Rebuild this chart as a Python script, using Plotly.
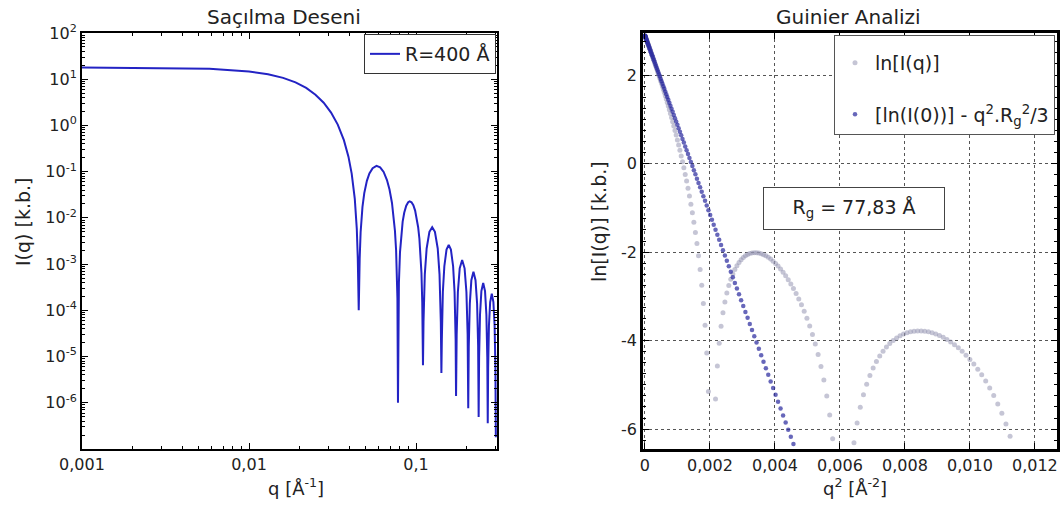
import plotly.graph_objects as go

# ---------------- Left panel: scattering pattern I(q) ----------------
q_left = [
    0.001, 0.0034, 0.0058, 0.01, 0.013, 0.016, 0.019, 0.022, 0.025, 0.028,
    0.031, 0.034, 0.037, 0.0394, 0.0412, 0.043, 0.0442, 0.0448, 0.0451, 0.0454,
    0.046, 0.0466, 0.0478, 0.049, 0.0508, 0.0526, 0.055, 0.058, 0.061, 0.064,
    0.067, 0.0694, 0.0718, 0.0736, 0.0748, 0.076, 0.0766, 0.0774, 0.078, 0.079,
    0.0802, 0.0814, 0.0832, 0.085, 0.0874, 0.0898, 0.0916, 0.094, 0.0964, 0.0988,
    0.1012, 0.103, 0.1048, 0.106, 0.1066, 0.1078, 0.109, 0.1101,
    0.1109, 0.1129, 0.1158, 0.1203, 0.125, 0.1298, 0.1349, 0.1383, 0.1408, 0.1419,
    0.1428, 0.1448, 0.1478, 0.1523, 0.157, 0.1618, 0.1668, 0.1702, 0.1727, 0.1737,
    0.1752, 0.1781, 0.1827, 0.1889, 0.1954, 0.2004, 0.2038, 0.2055,
    0.207, 0.21, 0.2145, 0.2208, 0.2272, 0.2322, 0.2355, 0.2372,
    0.2387, 0.2417, 0.2463, 0.2526, 0.259, 0.2639, 0.2672, 0.2689,
    0.2704, 0.2734, 0.278, 0.2843, 0.2907, 0.2956, 0.2989, 0.3006,
]
I_left = [
    17.96, 17.58, 16.84, 14.75, 12.82, 10.69, 8.525, 6.475, 4.627, 3.099,
    1.902, 1.042, 0.481, 0.211, 0.0911, 0.0258, 0.0058, 0.00135, 3.1e-4, 1.0e-4,
    0.00132, 0.00488, 0.01725, 0.0343, 0.0634, 0.0914, 0.1194, 0.1336, 0.1243, 0.0986,
    0.0659, 0.041, 0.021, 0.0102, 0.00525, 0.00199, 9.6e-4, 1.8e-4, 1.0e-6, 3.9e-4,
    0.00182, 0.00405, 0.00831, 0.01292, 0.01835, 0.02183, 0.02279, 0.02183, 0.01876, 0.01438,
    0.0096, 0.00629, 0.00354, 0.00211, 0.00153, 6.5e-4, 1.5e-4, 6.5e-6,
    5.6e-5, 6.0e-4, 0.00218, 0.005, 0.0063, 0.005, 0.00218, 6.0e-4, 5.6e-5, 4.4e-6,
    2.3e-5, 2.5e-4, 9.0e-4, 0.00206, 0.0026, 0.00206, 9.0e-4, 2.5e-4, 2.3e-5, 1.4e-6,
    3.0e-5, 2.5e-4, 8.1e-4, 0.00123, 8.1e-4, 2.5e-4, 3.0e-5, 7.6e-7,
    1.7e-5, 1.4e-4, 4.5e-4, 6.8e-4, 4.5e-4, 1.4e-4, 1.7e-5, 4.9e-7,
    9.6e-6, 8.0e-5, 2.6e-4, 3.9e-4, 2.6e-4, 8.0e-5, 9.6e-6, 3.6e-7,
    5.6e-6, 4.7e-5, 1.5e-4, 2.3e-4, 1.5e-4, 4.7e-5, 5.6e-6, 1.8e-7,
]

# ---------------- Right panel: Guinier analysis ----------------
q_grid = [
    0.001, 0.0016, 0.0022, 0.0028, 0.0034, 0.004, 0.0046, 0.0052, 0.0058, 0.0064,
    0.007, 0.0076, 0.0082, 0.0088, 0.0094, 0.01, 0.0106, 0.0112, 0.0118, 0.0124,
    0.013, 0.0136, 0.0142, 0.0148, 0.0154, 0.016, 0.0166, 0.0172, 0.0178, 0.0184,
    0.019, 0.0196, 0.0202, 0.0208, 0.0214, 0.022, 0.0226, 0.0232, 0.0238, 0.0244,
    0.025, 0.0256, 0.0262, 0.0268, 0.0274, 0.028, 0.0286, 0.0292, 0.0298, 0.0304,
    0.031, 0.0316, 0.0322, 0.0328, 0.0334, 0.034, 0.0346, 0.0352, 0.0358, 0.0364,
    0.037, 0.0376, 0.0382, 0.0388, 0.0394, 0.04, 0.0406, 0.0412, 0.0418, 0.0424,
    0.043, 0.0436, 0.0442, 0.0448, 0.0454, 0.046, 0.0466, 0.0472, 0.0478, 0.0484,
    0.049, 0.0496, 0.0502, 0.0508, 0.0514, 0.052, 0.0526, 0.0532, 0.0538, 0.0544,
    0.055, 0.0556, 0.0562, 0.0568, 0.0574, 0.058, 0.0586, 0.0592, 0.0598, 0.0604,
    0.061, 0.0616, 0.0622, 0.0628, 0.0634, 0.064, 0.0646, 0.0652, 0.0658, 0.0664,
    0.067, 0.0676, 0.0682, 0.0688, 0.0694, 0.07, 0.0706, 0.0712, 0.0718, 0.0724,
    0.073, 0.0736, 0.0742, 0.0748, 0.0754, 0.076, 0.0766, 0.0772, 0.0778, 0.0784,
    0.079, 0.0796, 0.0802, 0.0808, 0.0814, 0.082, 0.0826, 0.0832, 0.0838, 0.0844,
    0.085, 0.0856, 0.0862, 0.0868, 0.0874, 0.088, 0.0886, 0.0892, 0.0898, 0.0904,
    0.091, 0.0916, 0.0922, 0.0928, 0.0934, 0.094, 0.0946, 0.0952, 0.0958, 0.0964,
    0.097, 0.0976, 0.0982, 0.0988, 0.0994, 0.1, 0.1006, 0.1012, 0.1018, 0.1024,
    0.103, 0.1036, 0.1042, 0.1048, 0.1054, 0.106,
]
lnI_data = [
    2.888, 2.885, 2.881, 2.875, 2.867, 2.859, 2.848, 2.837, 2.824, 2.809,
    2.793, 2.776, 2.757, 2.737, 2.715, 2.691, 2.666, 2.640, 2.612, 2.582,
    2.551, 2.518, 2.483, 2.447, 2.409, 2.369, 2.327, 2.284, 2.239, 2.192,
    2.143, 2.092, 2.039, 1.984, 1.927, 1.868, 1.807, 1.743, 1.673, 1.604,
    1.532, 1.458, 1.381, 1.301, 1.217, 1.131, 1.041, 0.947, 0.850, 0.749,
    0.643, 0.533, 0.419, 0.298, 0.173, 0.041, -0.097, -0.246, -0.397, -0.560,
    -0.732, -0.917, -1.114, -1.326, -1.556, -1.808, -2.086, -2.396, -2.750, -3.161,
    -3.656, -4.283, -5.150, -6.608, None, -6.633, -5.322, -4.574, -4.060, -3.675,
    -3.373, -3.129, -2.927, -2.758, -2.616, -2.495, -2.393, -2.307, -2.234, -2.174,
    -2.125, -2.085, -2.055, -2.033, -2.020, -2.013, -2.014, -2.022, -2.037, -2.058,
    -2.085, -2.119, -2.159, -2.205, -2.258, -2.317, -2.383, -2.456, -2.536, -2.624,
    -2.719, -2.823, -2.936, -3.059, -3.193, -3.338, -3.497, -3.672, -3.864, -4.077,
    -4.314, -4.583, -4.890, -5.250, -5.681, -6.221, -6.946, None, None, None,
    None, None, -6.310, -5.861, -5.509, -5.225, -4.989, -4.790, -4.620, -4.474,
    -4.349, -4.240, -4.147, -4.066, -3.998, -3.940, -3.893, -3.854, -3.824, -3.802,
    -3.788, -3.781, -3.782, -3.789, -3.803, -3.824, -3.852, -3.886, -3.927, -3.976,
    -4.031, -4.094, -4.164, -4.242, -4.329, -4.425, -4.530, -4.646, -4.774, -4.914,
    -5.069, -5.241, -5.431, -5.645, -5.887, -6.162,
]
ln_guinier = [
    2.888, 2.885, 2.880, 2.874, 2.867, 2.858, 2.847, 2.835, 2.822, 2.807,
    2.791, 2.773, 2.754, 2.734, 2.712, 2.688, 2.663, 2.637, 2.609, 2.580,
    2.549, 2.517, 2.483, 2.448, 2.411, 2.373, 2.334, 2.293, 2.250, 2.206,
    2.161, 2.114, 2.066, 2.016, 1.965, 1.913, 1.859, 1.803, 1.746, 1.688,
    1.628, 1.567, 1.504, 1.440, 1.374, 1.307, 1.238, 1.168, 1.097, 1.024,
    0.950, 0.874, 0.796, 0.718, 0.637, 0.556, 0.473, 0.388, 0.302, 0.215,
    0.126, 0.035, -0.056, -0.150, -0.244, -0.341, -0.438, -0.537, -0.638, -0.740,
    -0.843, -0.948, -1.055, -1.163, -1.272, -1.383, -1.495, -1.608, -1.723, -1.840,
    -1.958, -2.077, -2.198, -2.321, -2.445, -2.570, -2.697, -2.825, -2.954, -3.086,
    -3.218, -3.352, -3.487, -3.624, -3.763, -3.902, -4.044, -4.186, -4.331, -4.476,
    -4.623, -4.772, -4.922, -5.073, -5.226, -5.381, -5.536, -5.694, -5.852, -6.013,
    -6.174, -6.337, -6.502,
]
assert len(q_left) == len(I_left)
assert len(q_grid) == len(lnI_data)

left_xticks = [0.001, 0.01, 0.1]
left_xticktext = ["0,001", "0,01", "0,1"]
left_yticks = [1e2, 1e1, 1e0, 1e-1, 1e-2, 1e-3, 1e-4, 1e-5, 1e-6]
left_yticktext = ["10<sup>2</sup>", "10<sup>1</sup>", "10<sup>0</sup>", "10<sup>-1</sup>",
                  "10<sup>-2</sup>", "10<sup>-3</sup>", "10<sup>-4</sup>", "10<sup>-5</sup>",
                  "10<sup>-6</sup>"]
right_xticks = [0, 0.002, 0.004, 0.006, 0.008, 0.010, 0.012]
right_xticktext = ["0", "0,002", "0,004", "0,006", "0,008", "0,010", "0,012"]
right_yticks = [2, 0, -2, -4, -6]
right_yticktext = ["2", "0", "-2", "-4", "-6"]

W, H = 1063, 511
FONT = "DejaVu Sans"
TXT = "#222222"


def fx(p):
    return p / W


def fy(p):
    return 1 - p / H


q2_grid = [q * q for q in q_grid]

fig = go.Figure()
fig.add_trace(go.Scatter(
    x=q_left, y=I_left, mode="lines", name="R=400 Å",
    line=dict(color="#2323c4", width=2),
    xaxis="x", yaxis="y", legend="legend",
))
fig.add_trace(go.Scatter(
    x=q2_grid, y=lnI_data, mode="markers", name="ln[I(q)]",
    marker=dict(size=5, color="rgba(150,150,178,0.55)", line=dict(width=0)),
    xaxis="x2", yaxis="y2", legend="legend2", legendgroup="a",
))
fig.add_trace(go.Scatter(
    x=q2_grid[:len(ln_guinier)], y=ln_guinier, mode="markers",
    name="[ln(I(0))] - q<sup>2</sup>.R<sub>g</sub><sup>2</sup>/3",
    marker=dict(size=4.5, color="rgba(45,45,160,0.72)", line=dict(width=0)),
    xaxis="x2", yaxis="y2", legend="legend2", legendgroup="b",
))

minor_x_left = [m * 10.0 ** e for e in (-3, -2, -1) for m in range(2, 10)]
minor_y_left = [m * 10.0 ** e for e in range(-7, 2) for m in range(2, 10)]

axis_common = dict(showline=True, linecolor="black", mirror="ticks", ticks="inside",
                   tickcolor="black", tickfont=dict(family=FONT, size=16, color=TXT),
                   zeroline=False, automargin=False)

fig.update_layout(
    width=W, height=H,
    margin=dict(l=0, r=0, t=0, b=0, pad=0, autoexpand=False),
    paper_bgcolor="white", plot_bgcolor="white",
    font=dict(family=FONT, color=TXT),
    xaxis=dict(
        type="log", domain=[fx(82), fx(497)], range=[-3, -0.515], anchor="y",
        tickvals=left_xticks, ticktext=left_xticktext, ticklen=6, linewidth=2,
        showgrid=False,
        minor=dict(ticks="inside", ticklen=3, tickvals=minor_x_left, tickcolor="black", showgrid=False),
        **axis_common,
    ),
    yaxis=dict(
        type="log", domain=[fy(449), fy(33)], range=[-7, 2], anchor="x",
        tickvals=left_yticks, ticktext=left_yticktext, ticklen=6, linewidth=2,
        showgrid=False,
        minor=dict(ticks="inside", ticklen=3, tickvals=minor_y_left, tickcolor="black", showgrid=False),
        **axis_common,
    ),
    xaxis2=dict(
        domain=[fx(643), fx(1057)], range=[-0.00006, 0.01268], anchor="y2",
        tickvals=right_xticks, ticktext=right_xticktext, ticklen=6, linewidth=2.5,
        showgrid=True, gridcolor="#555555", griddash="dot", gridwidth=1,
        **axis_common,
    ),
    yaxis2=dict(
        domain=[fy(449), fy(33)], range=[-6.45, 2.95], anchor="x2",
        tickvals=right_yticks, ticktext=right_yticktext, ticklen=6, linewidth=2.5,
        showgrid=True, gridcolor="#555555", griddash="dot", gridwidth=1,
        minor=dict(ticks="inside", ticklen=3, dtick=0.25, tickcolor="black", showgrid=False),
        **axis_common,
    ),
    legend=dict(
        x=fx(496), y=fy(34), xanchor="right", yanchor="top",
        bgcolor="white", bordercolor="#333333", borderwidth=1,
        font=dict(family=FONT, size=19, color=TXT),
    ),
    legend2=dict(
        x=fx(1055), y=fy(35), xanchor="right", yanchor="top",
        bgcolor="white", bordercolor="#555555", borderwidth=1,
        font=dict(family=FONT, size=19, color=TXT), tracegroupgap=24,
        title=dict(text=" ", font=dict(size=6)),
    ),
    showlegend=True,
)

annotations = [
    dict(text="Saçılma Deseni", x=fx(284), y=fy(17)),
    dict(text="Guinier Analizi", x=fx(848), y=fy(17)),
    dict(text="q [Å<sup>-1</sup>]", x=fx(296), y=fy(487), font=dict(family=FONT, size=18, color=TXT)),
    dict(text="q<sup>2</sup> [Å<sup>-2</sup>]", x=fx(855), y=fy(487), font=dict(family=FONT, size=18, color=TXT)),
    dict(text="I(q) [k.b.]", x=fx(23), y=fy(222), textangle=-90,
         font=dict(family=FONT, size=19, color=TXT)),
    dict(text="ln[I(q)] [k.b.]", x=fx(599), y=fy(222), textangle=-90,
         font=dict(family=FONT, size=19, color=TXT)),
    dict(text="R<sub>g</sub> = 77,83 Å", x=fx(853.5), y=fy(208.5),
         font=dict(family=FONT, size=19, color=TXT),
         bgcolor="white", bordercolor="#444444", borderwidth=1, borderpad=4,
         width=172, height=33),
]
for a in annotations:
    a.setdefault("font", dict(family=FONT, size=20, color=TXT))
    a.update(xref="paper", yref="paper", showarrow=False, xanchor="center", yanchor="middle")
fig.update_layout(annotations=annotations)

fig.write_html("out.html")
